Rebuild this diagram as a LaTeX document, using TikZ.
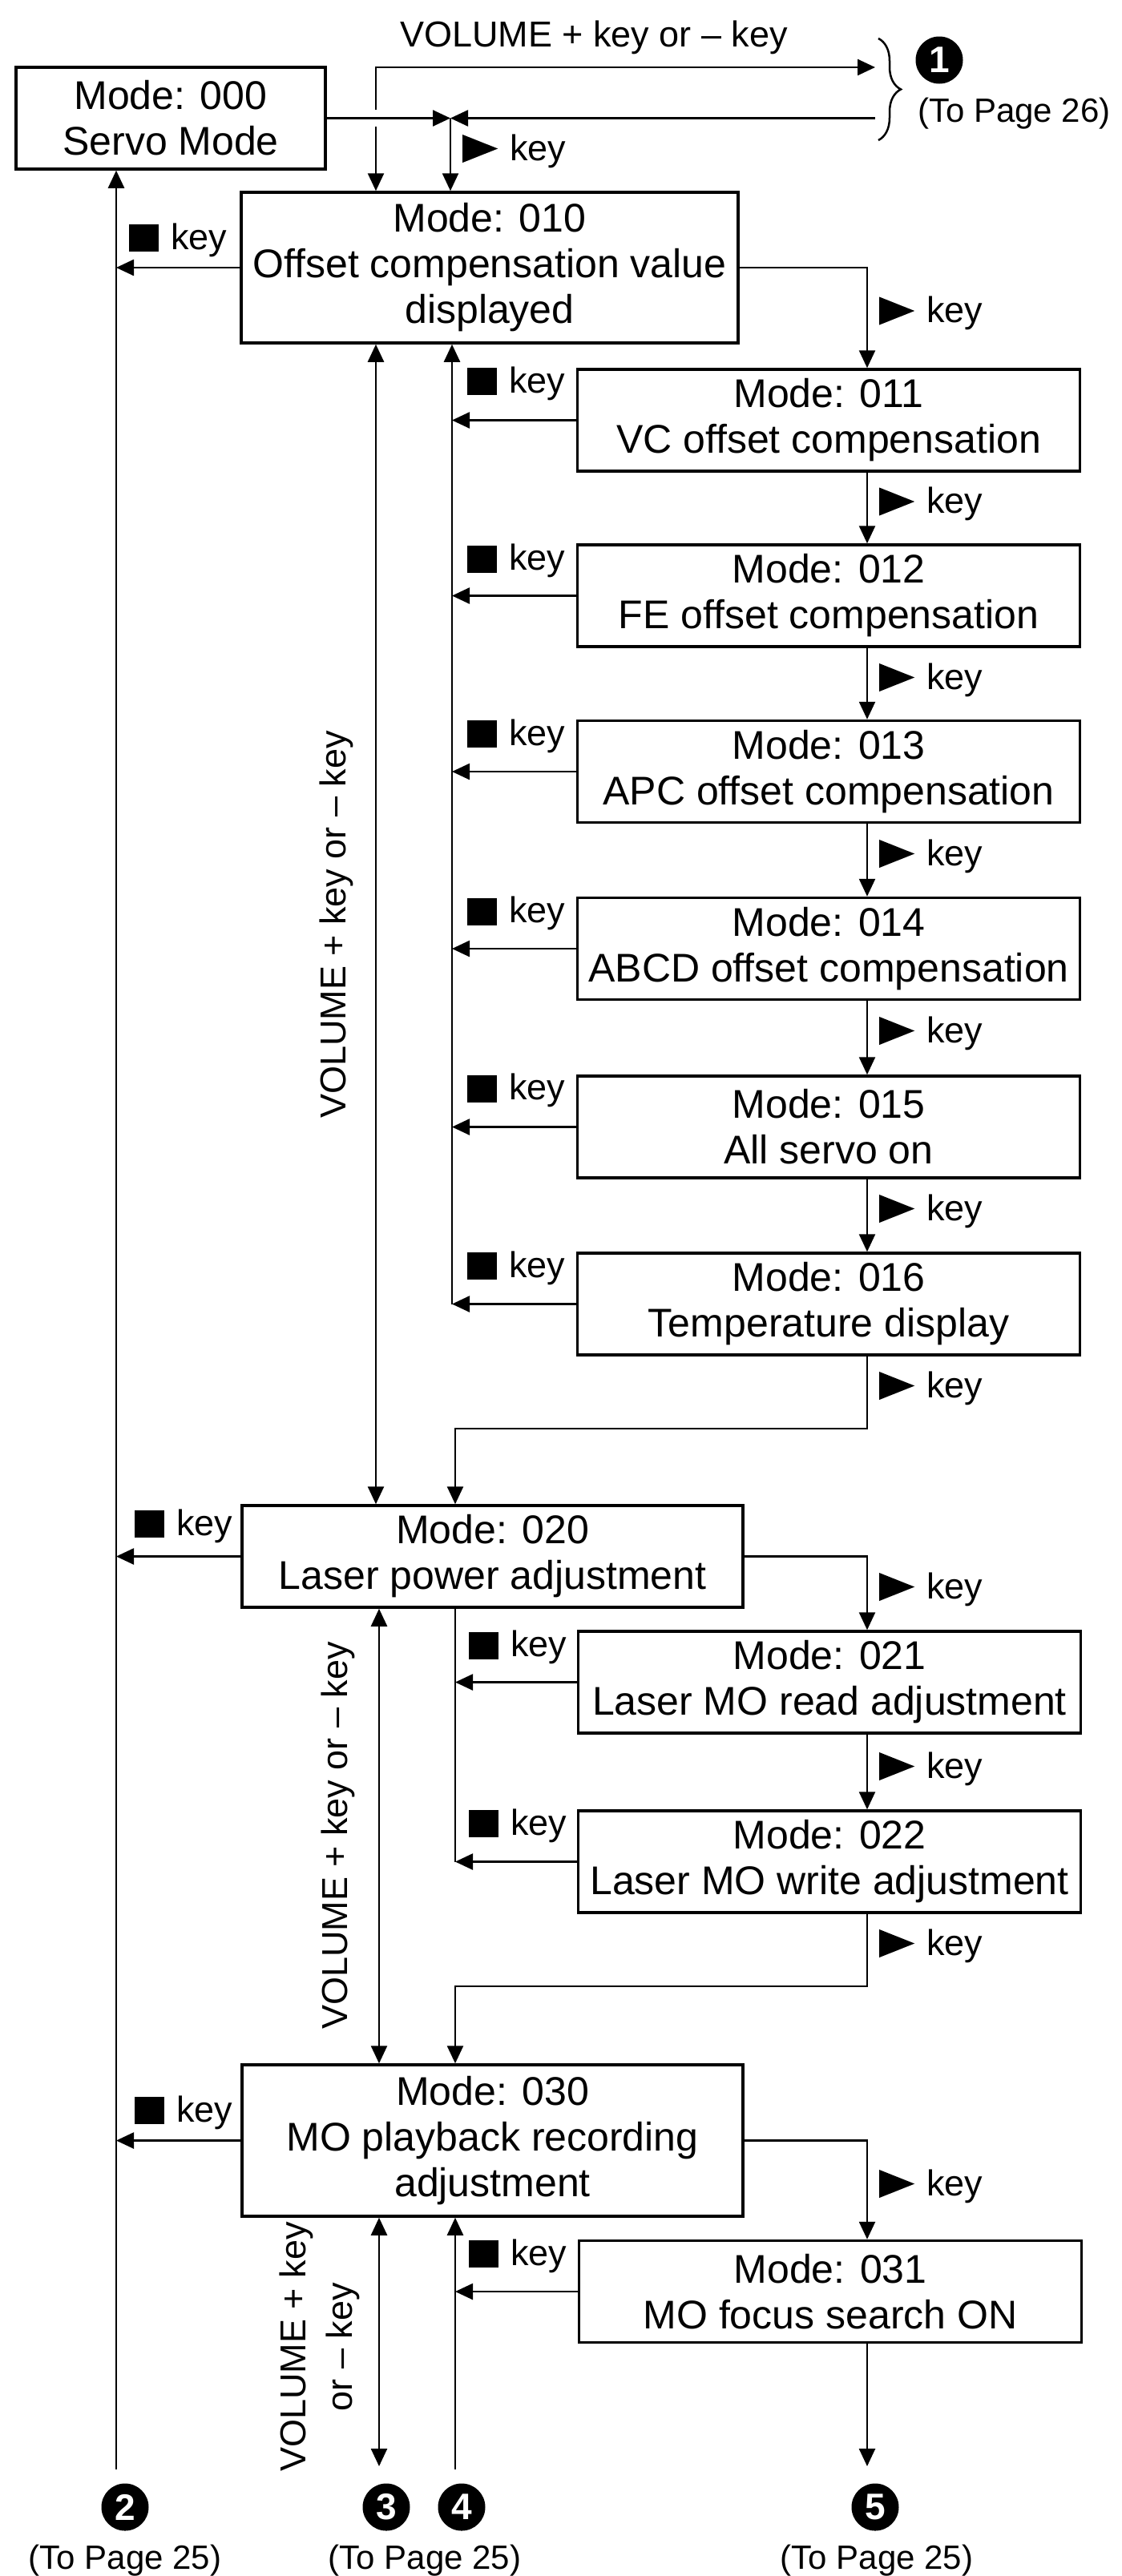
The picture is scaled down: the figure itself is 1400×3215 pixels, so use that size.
\documentclass[tikz,border=0pt]{standalone}
\usepackage{fontspec}
\setmainfont{Liberation Sans}
\usetikzlibrary{arrows.meta,decorations.pathreplacing}
\newcommand\playsym{\tikz[baseline=0pt]\fill (0pt,-3pt) -- (44pt,14.5pt) -- (0pt,32pt) -- cycle;}
\newcommand\stopsym{\rule[-3pt]{37pt}{34pt}}
\begin{document}
\begin{tikzpicture}[x=1pt,y=-1pt,
  box/.style={draw,line width=3.5pt,inner sep=0pt,align=center,font=\fontsize{50}{57}\selectfont},
  subbox/.style={box,minimum width=627pt,minimum height=127pt},
  conn/.style={line width=2.5pt,>={Triangle[length=22pt,width=20pt]}},
  keylab/.style={anchor=base west,inner sep=0pt,font=\fontsize{45}{50}\selectfont},
  numcirc/.style={circle,fill=black,text=white,minimum size=59pt,inner sep=0pt,font=\bfseries\fontsize{46}{46}\selectfont},
  topage/.style={inner sep=0pt,font=\fontsize{42}{46}\selectfont},
  vol/.style={inner sep=0pt,font=\fontsize{45}{58}\selectfont,align=center}]
\useasboundingbox (0,0) rectangle (1400,3215);

% boxes
\node[box,minimum width=386pt,minimum height=127pt] (b000) at (213,147.5) {Mode: 000\\Servo Mode};
\node[box,minimum width=620pt,minimum height=188pt] (b010) at (611,334) {Mode: 010\\Offset compensation value\\displayed};
\node[subbox] (b011) at (1034,524.5) {Mode: 011\\VC offset compensation};
\node[subbox] (b012) at (1034,743.5) {Mode: 012\\FE offset compensation};
\node[subbox] (b013) at (1034,963) {Mode: 013\\APC offset compensation};
\node[subbox] (b014) at (1034,1184) {Mode: 014\\ABCD offset compensation};
\node[subbox] (b015) at (1034,1406.5) {Mode: 015\\All servo on};
\node[subbox] (b016) at (1034,1627.5) {Mode: 016\\Temperature display};
\node[box,minimum width=625pt,minimum height=127pt] (b020) at (614.5,1942.5) {Mode: 020\\Laser power adjustment};
\node[subbox] (b021) at (1035,2099.5) {Mode: 021\\Laser MO read adjustment};
\node[subbox] (b022) at (1035,2323.5) {Mode: 022\\Laser MO write adjustment};
\node[box,minimum width=625pt,minimum height=189pt] (b030) at (614.5,2671.5) {Mode: 030\\MO playback recording\\adjustment};
\node[subbox] (b031) at (1036,2860) {Mode: 031\\MO focus search ON};

% off-page markers
\node[numcirc] (c1) at (1172,75) {1};
\node[topage,anchor=west] (p1) at (1145,142) {(To Page 26)};
\node[numcirc] (c2) at (156,3129) {2};
\node[numcirc] (c3) at (482,3129) {3};
\node[numcirc] (c4) at (576,3129) {4};
\node[numcirc] (c5) at (1092,3129) {5};
\node[topage] (p2) at (156,3196) {(To Page 25)};
\node[topage] (p3) at (530,3196) {(To Page 25)};
\node[topage] (p5) at (1094,3196) {(To Page 25)};

% coordinates
\coordinate (j0) at (562,147.5);
\coordinate (o1a) at (1092,84);
\coordinate (o1b) at (1092,147.5);
\coordinate (v1) at (469,84);
\coordinate (g1) at (469,137);
\coordinate (g2) at (469,158);
\coordinate (ls) at (145,0);
\coordinate (e2) at (145,3082);
\coordinate (sp1) at (564,0);
\coordinate (sp2) at (568,0);
\coordinate (rc) at (1082,0);
\coordinate (t1) at (1082,1783);
\coordinate (t2) at (1082,2479);
\coordinate (vx1) at (469,0);
\coordinate (vx2) at (473,0);
\coordinate (e3) at (473,3078);
\coordinate (e4) at (568,3082);
\coordinate (e5) at (1082,3078);
\coordinate (br1) at (1096,48);
\coordinate (br2) at (1096,175);

% brace
\draw[line width=2.5pt,decorate,decoration={brace,amplitude=28pt}] (br1) -- (br2);

% top connectors
\draw[conn,->] (b000.east) -- (j0);
\draw[conn,->] (o1b) -- (j0);
\draw[conn,->] (j0) -- (j0 |- b010.north);
\draw[conn,->] (g1) -- (v1) -- (o1a);
\draw[conn,->] (g2) -- (g2 |- b010.north);

% left spine
\draw[conn,->] (e2) -- (ls |- b000.south);
\draw[conn,->] (b010.west) -- (b010.west -| ls);
\draw[conn,->] (b020.west) -- (b020.west -| ls);
\draw[conn,->] (b030.west) -- (b030.west -| ls);

% volume double arrows
\draw[conn,<->] (vx1 |- b010.south) -- (vx1 |- b020.north);
\draw[conn,<->] (vx2 |- b020.south) -- (vx2 |- b030.north);
\draw[conn,<->] (vx2 |- b030.south) -- (e3);

% group 01
\draw[conn,->] (b016.west -| sp1) -- (sp1 |- b010.south);
\foreach \b in {011,012,013,014,015,016} \draw[conn,->] (b\b.west) -- (b\b.west -| sp1);
\draw[conn,->] (b010.east) -| (rc |- b011.north);
\draw[conn,->] (rc |- b011.south) -- (rc |- b012.north);
\draw[conn,->] (rc |- b012.south) -- (rc |- b013.north);
\draw[conn,->] (rc |- b013.south) -- (rc |- b014.north);
\draw[conn,->] (rc |- b014.south) -- (rc |- b015.north);
\draw[conn,->] (rc |- b015.south) -- (rc |- b016.north);
\draw[conn,->] (rc |- b016.south) -- (t1) -| (sp2 |- b020.north);

% group 02
\draw[conn] (sp2 |- b020.south) -- (b022.west -| sp2);
\draw[conn,->] (b021.west) -- (b021.west -| sp2);
\draw[conn,->] (b022.west) -- (b022.west -| sp2);
\draw[conn,->] (b020.east) -| (rc |- b021.north);
\draw[conn,->] (rc |- b021.south) -- (rc |- b022.north);
\draw[conn,->] (rc |- b022.south) -- (t2) -| (sp2 |- b030.north);

% group 03
\draw[conn,->] (b030.east) -| (rc |- b031.north);
\draw[conn,->] (b031.west) -- (b031.west -| sp2);
\draw[conn,->] (e4) -- (sp2 |- b030.south);
\draw[conn,->] (rc |- b031.south) -- (e5);

% key labels
\node[keylab] (k00) at (577,200) {\playsym\hspace{15pt}key};
\node[keylab] (k01) at (1097,402.5) {\playsym\hspace{15pt}key};
\node[keylab] (k02) at (1097,640.5) {\playsym\hspace{15pt}key};
\node[keylab] (k03) at (1097,860) {\playsym\hspace{15pt}key};
\node[keylab] (k04) at (1097,1080) {\playsym\hspace{15pt}key};
\node[keylab] (k05) at (1097,1301) {\playsym\hspace{15pt}key};
\node[keylab] (k06) at (1097,1523) {\playsym\hspace{15pt}key};
\node[keylab] (k07) at (1097,1744) {\playsym\hspace{15pt}key};
\node[keylab] (k08) at (1097,1995) {\playsym\hspace{15pt}key};
\node[keylab] (k09) at (1097,2219) {\playsym\hspace{15pt}key};
\node[keylab] (k10) at (1097,2440) {\playsym\hspace{15pt}key};
\node[keylab] (k11) at (1097,2740) {\playsym\hspace{15pt}key};

\node[keylab] (s00) at (161,311) {\stopsym\hspace{15pt}key};
\node[keylab] (s01) at (583,490) {\stopsym\hspace{15pt}key};
\node[keylab] (s02) at (583,711.5) {\stopsym\hspace{15pt}key};
\node[keylab] (s03) at (583,930) {\stopsym\hspace{15pt}key};
\node[keylab] (s04) at (583,1151.5) {\stopsym\hspace{15pt}key};
\node[keylab] (s05) at (583,1372.5) {\stopsym\hspace{15pt}key};
\node[keylab] (s06) at (583,1594) {\stopsym\hspace{15pt}key};
\node[keylab] (s07) at (168,1916) {\stopsym\hspace{15pt}key};
\node[keylab] (s08) at (585,2067.5) {\stopsym\hspace{15pt}key};
\node[keylab] (s09) at (585,2290) {\stopsym\hspace{15pt}key};
\node[keylab] (s10) at (168,2648) {\stopsym\hspace{15pt}key};
\node[keylab] (s11) at (585,2827) {\stopsym\hspace{15pt}key};

% volume labels
\node[vol] (vl0) at (741,47) {VOLUME + key or – key};
\node[vol,rotate=90] (vl1) at (420,1154) {VOLUME + key or – key};
\node[vol,rotate=90] (vl2) at (422,2291) {VOLUME + key or – key};
\node[vol,rotate=90] (vl3) at (399,2929) {VOLUME + key\\or – key};
\end{tikzpicture}
\end{document}
